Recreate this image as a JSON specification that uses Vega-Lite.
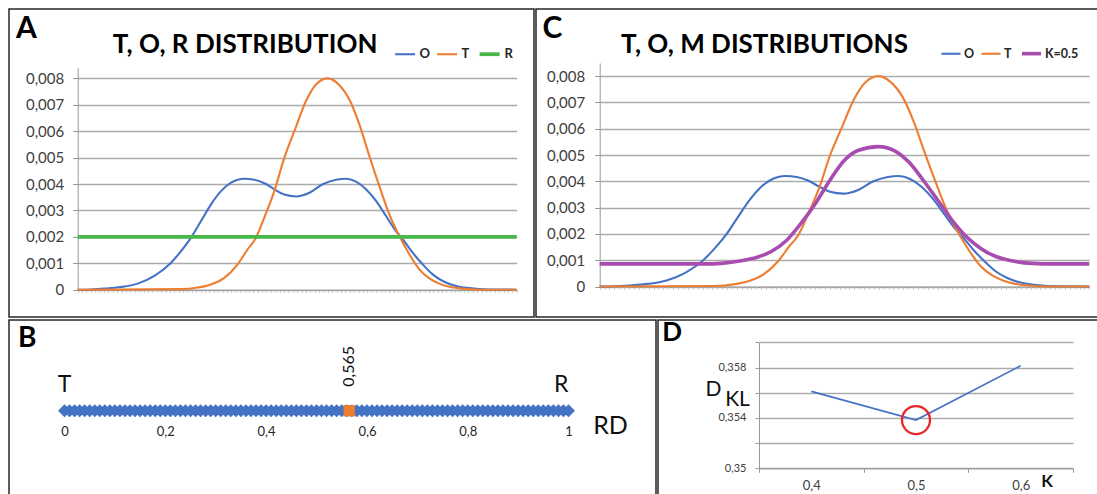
{
  "$schema": "https://vega.github.io/schema/vega-lite/v6.json",
  "padding": {"left": 8, "top": 8, "right": 0, "bottom": 0},
  "background": "white",
  "spacing": 0,
  "config": {
    "font": "Lato",
    "view": {"stroke": "#262626", "strokeWidth": 1.5},
    "axis": {"labelFont": "Lato", "titleFont": "Lato", "labelColor": "#404040", "domainColor": "#999999", "tickColor": "#999999", "labelOverlap": false, "labelFlush": false},
    "legend": {"labelFont": "Lato"}
  },
  "datasets": {
    "dist": [
      {"series": "O", "x": 0, "y": 0}, {"series": "O", "x": 0.03, "y": 0.00001}, {"series": "O", "x": 0.0607, "y": 0.00004}, {"series": "O", "x": 0.0987, "y": 0.0001}, {"series": "O", "x": 0.1366, "y": 0.00023}, {"series": "O", "x": 0.1746, "y": 0.00052}, {"series": "O", "x": 0.2126, "y": 0.00102}, {"series": "O", "x": 0.2354, "y": 0.00146}, {"series": "O", "x": 0.2582, "y": 0.00197}, {"series": "O", "x": 0.2809, "y": 0.0026}, {"series": "O", "x": 0.3037, "y": 0.00323}, {"series": "O", "x": 0.3264, "y": 0.00373}, {"series": "O", "x": 0.3492, "y": 0.00405}, {"series": "O", "x": 0.3796, "y": 0.0042}, {"series": "O", "x": 0.4024, "y": 0.00416}, {"series": "O", "x": 0.4252, "y": 0.00403}, {"series": "O", "x": 0.4479, "y": 0.0038}, {"series": "O", "x": 0.4707, "y": 0.0036}, {"series": "O", "x": 0.4973, "y": 0.00353}, {"series": "O", "x": 0.528, "y": 0.00367}, {"series": "O", "x": 0.558, "y": 0.00399}, {"series": "O", "x": 0.5884, "y": 0.00416}, {"series": "O", "x": 0.6112, "y": 0.0042}, {"series": "O", "x": 0.634, "y": 0.00409}, {"series": "O", "x": 0.6567, "y": 0.0038}, {"series": "O", "x": 0.6795, "y": 0.00336}, {"series": "O", "x": 0.7023, "y": 0.00279}, {"series": "O", "x": 0.725, "y": 0.00222}, {"series": "O", "x": 0.7402, "y": 0.00191}, {"series": "O", "x": 0.763, "y": 0.0014}, {"series": "O", "x": 0.7858, "y": 0.00096}, {"series": "O", "x": 0.8086, "y": 0.00058}, {"series": "O", "x": 0.8314, "y": 0.00033}, {"series": "O", "x": 0.8618, "y": 0.00014}, {"series": "O", "x": 0.8921, "y": 0.00006}, {"series": "O", "x": 0.9377, "y": 0.00001}, {"series": "O", "x": 1, "y": 0},
      {"series": "T", "x": 0, "y": 0}, {"series": "T", "x": 0.2353, "y": 0.00002}, {"series": "T", "x": 0.2733, "y": 0.00008}, {"series": "T", "x": 0.3036, "y": 0.0002}, {"series": "T", "x": 0.334, "y": 0.00045}, {"series": "T", "x": 0.3644, "y": 0.00096}, {"series": "T", "x": 0.3872, "y": 0.00153}, {"series": "T", "x": 0.4062, "y": 0.00197}, {"series": "T", "x": 0.4251, "y": 0.00273}, {"series": "T", "x": 0.4479, "y": 0.00373}, {"series": "T", "x": 0.4707, "y": 0.005}, {"series": "T", "x": 0.4935, "y": 0.006}, {"series": "T", "x": 0.52, "y": 0.00714}, {"series": "T", "x": 0.5428, "y": 0.00777}, {"series": "T", "x": 0.5694, "y": 0.008}, {"series": "T", "x": 0.5945, "y": 0.00777}, {"series": "T", "x": 0.6188, "y": 0.0072}, {"series": "T", "x": 0.6416, "y": 0.00626}, {"series": "T", "x": 0.6643, "y": 0.00506}, {"series": "T", "x": 0.6871, "y": 0.00392}, {"series": "T", "x": 0.7099, "y": 0.00285}, {"series": "T", "x": 0.7327, "y": 0.00203}, {"series": "T", "x": 0.7554, "y": 0.00134}, {"series": "T", "x": 0.7782, "y": 0.00077}, {"series": "T", "x": 0.801, "y": 0.00043}, {"series": "T", "x": 0.8238, "y": 0.00023}, {"series": "T", "x": 0.8465, "y": 0.00011}, {"series": "T", "x": 0.8769, "y": 0.00004}, {"series": "T", "x": 0.9149, "y": 0}, {"series": "T", "x": 1, "y": 0},
      {"series": "R", "x": 0, "y": 0.002}, {"series": "R", "x": 1, "y": 0.002},
      {"series": "K=0.5", "x": 0, "y": 0.00086}, {"series": "K=0.5", "x": 0.2183, "y": 0.00086}, {"series": "K=0.5", "x": 0.248, "y": 0.00088}, {"series": "K=0.5", "x": 0.2923, "y": 0.00099}, {"series": "K=0.5", "x": 0.3217, "y": 0.00111}, {"series": "K=0.5", "x": 0.3513, "y": 0.00134}, {"series": "K=0.5", "x": 0.3809, "y": 0.00174}, {"series": "K=0.5", "x": 0.4103, "y": 0.00238}, {"series": "K=0.5", "x": 0.44, "y": 0.00314}, {"series": "K=0.5", "x": 0.4696, "y": 0.00402}, {"series": "K=0.5", "x": 0.499, "y": 0.00478}, {"series": "K=0.5", "x": 0.5286, "y": 0.00518}, {"series": "K=0.5", "x": 0.5692, "y": 0.00532}, {"series": "K=0.5", "x": 0.6025, "y": 0.00516}, {"series": "K=0.5", "x": 0.6319, "y": 0.00472}, {"series": "K=0.5", "x": 0.6616, "y": 0.00402}, {"series": "K=0.5", "x": 0.6912, "y": 0.00326}, {"series": "K=0.5", "x": 0.7206, "y": 0.0025}, {"series": "K=0.5", "x": 0.7502, "y": 0.00187}, {"series": "K=0.5", "x": 0.7798, "y": 0.00143}, {"series": "K=0.5", "x": 0.8092, "y": 0.00114}, {"series": "K=0.5", "x": 0.8388, "y": 0.00099}, {"series": "K=0.5", "x": 0.8832, "y": 0.00088}, {"series": "K=0.5", "x": 0.9275, "y": 0.00086}, {"series": "K=0.5", "x": 1, "y": 0.00086}
    ],
    "rdline": [
      {"rd": 0}, {"rd": 0.01}, {"rd": 0.02}, {"rd": 0.03}, {"rd": 0.04}, {"rd": 0.05}, {"rd": 0.06}, {"rd": 0.07}, {"rd": 0.08}, {"rd": 0.09},
      {"rd": 0.1}, {"rd": 0.11}, {"rd": 0.12}, {"rd": 0.13}, {"rd": 0.14}, {"rd": 0.15}, {"rd": 0.16}, {"rd": 0.17}, {"rd": 0.18}, {"rd": 0.19},
      {"rd": 0.2}, {"rd": 0.21}, {"rd": 0.22}, {"rd": 0.23}, {"rd": 0.24}, {"rd": 0.25}, {"rd": 0.26}, {"rd": 0.27}, {"rd": 0.28}, {"rd": 0.29},
      {"rd": 0.3}, {"rd": 0.31}, {"rd": 0.32}, {"rd": 0.33}, {"rd": 0.34}, {"rd": 0.35}, {"rd": 0.36}, {"rd": 0.37}, {"rd": 0.38}, {"rd": 0.39},
      {"rd": 0.4}, {"rd": 0.41}, {"rd": 0.42}, {"rd": 0.43}, {"rd": 0.44}, {"rd": 0.45}, {"rd": 0.46}, {"rd": 0.47}, {"rd": 0.48}, {"rd": 0.49},
      {"rd": 0.5}, {"rd": 0.51}, {"rd": 0.52}, {"rd": 0.53}, {"rd": 0.54}, {"rd": 0.55}, {"rd": 0.56}, {"rd": 0.57}, {"rd": 0.58}, {"rd": 0.59},
      {"rd": 0.6}, {"rd": 0.61}, {"rd": 0.62}, {"rd": 0.63}, {"rd": 0.64}, {"rd": 0.65}, {"rd": 0.66}, {"rd": 0.67}, {"rd": 0.68}, {"rd": 0.69},
      {"rd": 0.7}, {"rd": 0.71}, {"rd": 0.72}, {"rd": 0.73}, {"rd": 0.74}, {"rd": 0.75}, {"rd": 0.76}, {"rd": 0.77}, {"rd": 0.78}, {"rd": 0.79},
      {"rd": 0.8}, {"rd": 0.81}, {"rd": 0.82}, {"rd": 0.83}, {"rd": 0.84}, {"rd": 0.85}, {"rd": 0.86}, {"rd": 0.87}, {"rd": 0.88}, {"rd": 0.89},
      {"rd": 0.9}, {"rd": 0.91}, {"rd": 0.92}, {"rd": 0.93}, {"rd": 0.94}, {"rd": 0.95}, {"rd": 0.96}, {"rd": 0.97}, {"rd": 0.98}, {"rd": 0.99},
      {"rd": 1}
    ],
    "opt": [{"rd": 0.565, "label": "0,565"}],
    "ends": [{"rd": 0, "label": "T"}, {"rd": 1, "label": "R"}],
    "dkl": [{"k": 0.4, "dkl": 0.35611}, {"k": 0.5, "dkl": 0.35383}, {"k": 0.6, "dkl": 0.35814}]
  },
  "resolve": {"scale": {"x": "independent", "y": "independent", "color": "independent", "strokeWidth": "independent"}, "legend": {"color": "independent", "strokeWidth": "independent"}},
  "vconcat": [
    {
      "spacing": 0,
      "resolve": {"scale": {"x": "independent", "y": "independent", "color": "independent", "strokeWidth": "independent"}, "legend": {"color": "independent", "strokeWidth": "independent"}},
      "hconcat": [
        {
          "width": 525, "height": 308,
          "layer": [
            {
              "data": {"name": "dist"},
              "transform": [{"filter": "datum.series != 'K=0.5'"}],
              "mark": {"type": "line", "interpolate": "monotone"},
              "encoding": {
                "x": {"field": "x", "type": "quantitative",
                  "scale": {"domain": [0, 1], "range": [68.7, 507.7], "nice": false, "zero": false},
                  "axis": {"orient": "bottom", "offset": -27.3, "labels": false, "title": null, "grid": false, "tickCount": 100, "tickSize": 3, "tickColor": "#d0d0d0"}},
                "y": {"field": "y", "type": "quantitative",
                  "scale": {"domain": [0, 0.0084], "range": [280.7, 58.77], "nice": false, "zero": false},
                  "axis": {"orient": "left", "offset": -68.7, "values": [0, 0.001, 0.002, 0.003, 0.004, 0.005, 0.006, 0.007, 0.008], "tickCount": 30, "grid": true, "gridColor": "#ababab", "gridWidth": 1.6, "gridOpacity": 1, "title": null, "tickSize": 5, "labelPadding": 9, "labelFontSize": 15, "labelOverlap": false,
                    "labelExpr": "datum.value == 0 ? '0' : replace(format(datum.value, '.3f'), '.', ',')"}},
                "color": {"field": "series", "type": "nominal", "sort": null,
                  "scale": {"domain": ["O", "T", "R"], "range": ["#4472C4", "#ED7D31", "#48B84A"]},
                  "legend": {"orient": "none", "legendX": 384.6, "legendY": 33, "direction": "horizontal", "title": null, "symbolType": "stroke", "symbolSize": 400, "labelFontSize": 13, "labelFontWeight": "bold", "labelColor": "#262626", "labelOffset": 3, "columnPadding": 2, "padding": 0}},
                "strokeWidth": {"field": "series", "type": "nominal", "sort": null,
                  "scale": {"type": "ordinal", "domain": ["O", "T", "R"], "range": [2.1, 2.1, 3.8]},
                  "legend": {"orient": "none", "legendX": 384.6, "legendY": 33, "direction": "horizontal", "title": null, "symbolType": "stroke", "symbolSize": 400, "labelFontSize": 13, "labelFontWeight": "bold", "labelColor": "#262626", "labelOffset": 3, "columnPadding": 2, "padding": 0}}
              }
            },
            {
              "data": {"values": [{"label": "A"}]},
              "mark": {"type": "text", "fontSize": 30, "fontWeight": "bold", "align": "center", "baseline": "alphabetic", "color": "#000"},
              "encoding": {"text": {"field": "label"}, "x": {"datum": -0.1166}, "y": {"datum": 0.009538}}
            },
            {
              "data": {"values": [{"label": "T, O, R DISTRIBUTION"}]},
              "mark": {"type": "text", "fontSize": 26, "fontWeight": "bold", "align": "center", "baseline": "alphabetic", "color": "#000"},
              "encoding": {"text": {"field": "label"}, "x": {"datum": 0.3813}, "y": {"datum": 0.00897}}
            }
          ]
        },
        {
          "width": 564, "height": 308,
          "layer": [
            {
              "data": {"name": "dist"},
              "transform": [{"filter": "datum.series != 'R'"}],
              "mark": {"type": "line", "interpolate": "monotone"},
              "encoding": {
                "x": {"field": "x", "type": "quantitative",
                  "scale": {"domain": [0, 1], "range": [63.7, 553.3], "nice": false, "zero": false},
                  "axis": {"orient": "bottom", "offset": -30.5, "labels": false, "title": null, "grid": false, "tickCount": 100, "tickSize": 3, "tickColor": "#d0d0d0"}},
                "y": {"field": "y", "type": "quantitative",
                  "scale": {"domain": [0, 0.0085], "range": [277.5, 53.95], "nice": false, "zero": false},
                  "axis": {"orient": "left", "offset": -63.7, "values": [0, 0.001, 0.002, 0.003, 0.004, 0.005, 0.006, 0.007, 0.008], "tickCount": 30, "grid": true, "gridColor": "#ababab", "gridWidth": 1.6, "gridOpacity": 1, "title": null, "tickSize": 5, "labelPadding": 10, "labelFontSize": 15, "labelOverlap": false,
                    "labelExpr": "datum.value == 0 ? '0' : replace(format(datum.value, '.3f'), '.', ',')"}},
                "color": {"field": "series", "type": "nominal", "sort": null,
                  "scale": {"domain": ["O", "T", "K=0.5"], "range": ["#4472C4", "#ED7D31", "#A94CB0"]},
                  "legend": {"orient": "none", "legendX": 404, "legendY": 33, "direction": "horizontal", "title": null, "symbolType": "stroke", "symbolSize": 361, "labelFontSize": 12.5, "labelFontWeight": "bold", "labelColor": "#262626", "labelOffset": 2, "columnPadding": 2, "padding": 0}},
                "strokeWidth": {"field": "series", "type": "nominal", "sort": null,
                  "scale": {"type": "ordinal", "domain": ["O", "T", "K=0.5"], "range": [2.1, 2.1, 3.6]},
                  "legend": {"orient": "none", "legendX": 404, "legendY": 33, "direction": "horizontal", "title": null, "symbolType": "stroke", "symbolSize": 361, "labelFontSize": 12.5, "labelFontWeight": "bold", "labelColor": "#262626", "labelOffset": 2, "columnPadding": 2, "padding": 0}}
              }
            },
            {
              "data": {"values": [{"label": "C"}]},
              "mark": {"type": "text", "fontSize": 30, "fontWeight": "bold", "align": "center", "baseline": "alphabetic", "color": "#000"},
              "encoding": {"text": {"field": "label"}, "x": {"datum": -0.0968}, "y": {"datum": 0.00946}}
            },
            {
              "data": {"values": [{"label": "T, O, M DISTRIBUTIONS"}]},
              "mark": {"type": "text", "fontSize": 26, "fontWeight": "bold", "align": "center", "baseline": "alphabetic", "color": "#000"},
              "encoding": {"text": {"field": "label"}, "x": {"datum": 0.3366}, "y": {"datum": 0.008878}}
            }
          ]
        }
      ]
    },
    {
      "spacing": 0,
      "resolve": {"scale": {"x": "independent", "y": "independent"}},
      "hconcat": [
        {
          "width": 647, "height": 178,
          "layer": [
            {
              "data": {"name": "rdline"},
              "mark": {"type": "point", "shape": "diamond", "filled": true, "size": 170, "color": "#4472C4", "opacity": 1},
              "encoding": {
                "x": {"field": "rd", "type": "quantitative",
                  "scale": {"domain": [0, 1], "range": [55.5, 559.5], "nice": false, "zero": false},
                  "axis": {"orient": "bottom", "offset": -87.3, "values": [0, 0.2, 0.4, 0.6, 0.8, 1], "tickCount": 30, "domain": false, "ticks": false, "tickSize": 0, "grid": false, "labelPadding": 15, "labelFontSize": 13, "labelColor": "#262626",
                    "labelExpr": "replace(format(datum.value, '.1~f'), '.', ',')",
                    "title": "RD", "titleX": 601, "titleY": 15, "titleAlign": "center", "titleBaseline": "middle", "titleFontSize": 25, "titleFontWeight": "normal", "titleColor": "#111"}},
                "y": {"datum": 0, "type": "quantitative", "scale": {"domain": [-1, 1], "range": [181.4, 0], "nice": false, "zero": false}, "axis": null}
              }
            },
            {
              "data": {"name": "opt"},
              "mark": {"type": "point", "shape": "square", "filled": true, "size": 130, "color": "#ED7D31", "opacity": 1},
              "encoding": {"x": {"field": "rd", "type": "quantitative"}, "y": {"datum": 0}}
            },
            {
              "data": {"name": "opt"},
              "mark": {"type": "text", "angle": 270, "align": "left", "baseline": "middle", "dx": 24, "fontSize": 16, "color": "#111"},
              "encoding": {"x": {"field": "rd", "type": "quantitative"}, "y": {"datum": 0}, "text": {"field": "label"}}
            },
            {
              "data": {"name": "ends"},
              "mark": {"type": "text", "align": {"expr": "datum.label == 'R' ? 'right' : 'center'"}, "baseline": "alphabetic", "dy": -19, "fontSize": 23, "color": "#111"},
              "encoding": {"x": {"field": "rd", "type": "quantitative"}, "y": {"datum": 0}, "text": {"field": "label"}}
            },
            {
              "data": {"values": [{"label": "B"}]},
              "mark": {"type": "text", "fontSize": 28, "fontWeight": "bold", "align": "center", "baseline": "alphabetic", "color": "#000"},
              "encoding": {"text": {"field": "label"}, "x": {"datum": -0.0738}, "y": {"datum": 0.699}}
            }
          ]
        },
        {
          "width": 442, "height": 178,
          "layer": [
            {
              "data": {"name": "dkl"},
              "mark": {"type": "line", "color": "#4472C4", "strokeWidth": 1.7},
              "encoding": {
                "x": {"field": "k", "type": "quantitative",
                  "scale": {"domain": [0.35, 0.65], "range": [101, 415], "nice": false, "zero": false},
                  "axis": {"orient": "bottom", "offset": -29.7, "values": [0.35, 0.4, 0.45, 0.5, 0.55, 0.6, 0.65], "tickCount": 30, "grid": false, "tickSize": 4, "labelPadding": 7, "labelFontSize": 13,
                    "labelExpr": "round(datum.index * 6) % 2 == 1 ? replace(format(datum.value, '.1f'), '.', ',') : ''",
                    "tickOpacity": {"condition": {"test": "round(datum.index * 6) % 2 == 1", "value": 0}, "value": 1},
                    "title": "K", "titleX": 388.5, "titleY": 13, "titleAlign": "center", "titleBaseline": "middle", "titleFontSize": 17, "titleFontWeight": "bold", "titleColor": "#111"}},
                "y": {"field": "dkl", "type": "quantitative",
                  "scale": {"domain": [0.35, 0.36], "range": [148.3, 22.3], "nice": false, "zero": false},
                  "axis": {"orient": "left", "offset": -101, "values": [0.35, 0.352, 0.354, 0.356, 0.358, 0.36], "tickCount": 30, "grid": true, "gridColor": "#ababab", "gridWidth": 1.6, "gridOpacity": 1, "tickSize": 4, "labelPadding": 9, "labelFontSize": 11, "title": null, "labelOverlap": false,
                    "labelExpr": "round(datum.index * 5) % 2 == 0 ? replace(format(datum.value, '.3~f'), '.', ',') : ''"}}
              }
            },
            {
              "data": {"name": "dkl"},
              "transform": [{"filter": "datum.k == 0.5"}],
              "mark": {"type": "point", "shape": "circle", "filled": false, "size": 784, "color": "#E8262A", "strokeWidth": 2.3, "opacity": 1},
              "encoding": {"x": {"field": "k", "type": "quantitative"}, "y": {"field": "dkl", "type": "quantitative"}}
            },
            {
              "data": {"values": [{"label": "D"}]},
              "mark": {"type": "text", "fontSize": 26, "fontWeight": "bold", "align": "center", "baseline": "alphabetic", "color": "#000"},
              "encoding": {"text": {"field": "label"}, "x": {"datum": 0.2669}, "y": {"datum": 0.36013}}
            },
            {
              "data": {"values": [{"label": "D"}]},
              "mark": {"type": "text", "fontSize": 21, "align": "center", "baseline": "alphabetic", "color": "#111"},
              "encoding": {"text": {"field": "label"}, "x": {"datum": 0.30653}, "y": {"datum": 0.35574}}
            },
            {
              "data": {"values": [{"label": "KL"}]},
              "mark": {"type": "text", "fontSize": 21, "align": "center", "baseline": "alphabetic", "color": "#111"},
              "encoding": {"text": {"field": "label"}, "x": {"datum": 0.32946}, "y": {"datum": 0.35494}}
            }
          ]
        }
      ]
    }
  ]
}
